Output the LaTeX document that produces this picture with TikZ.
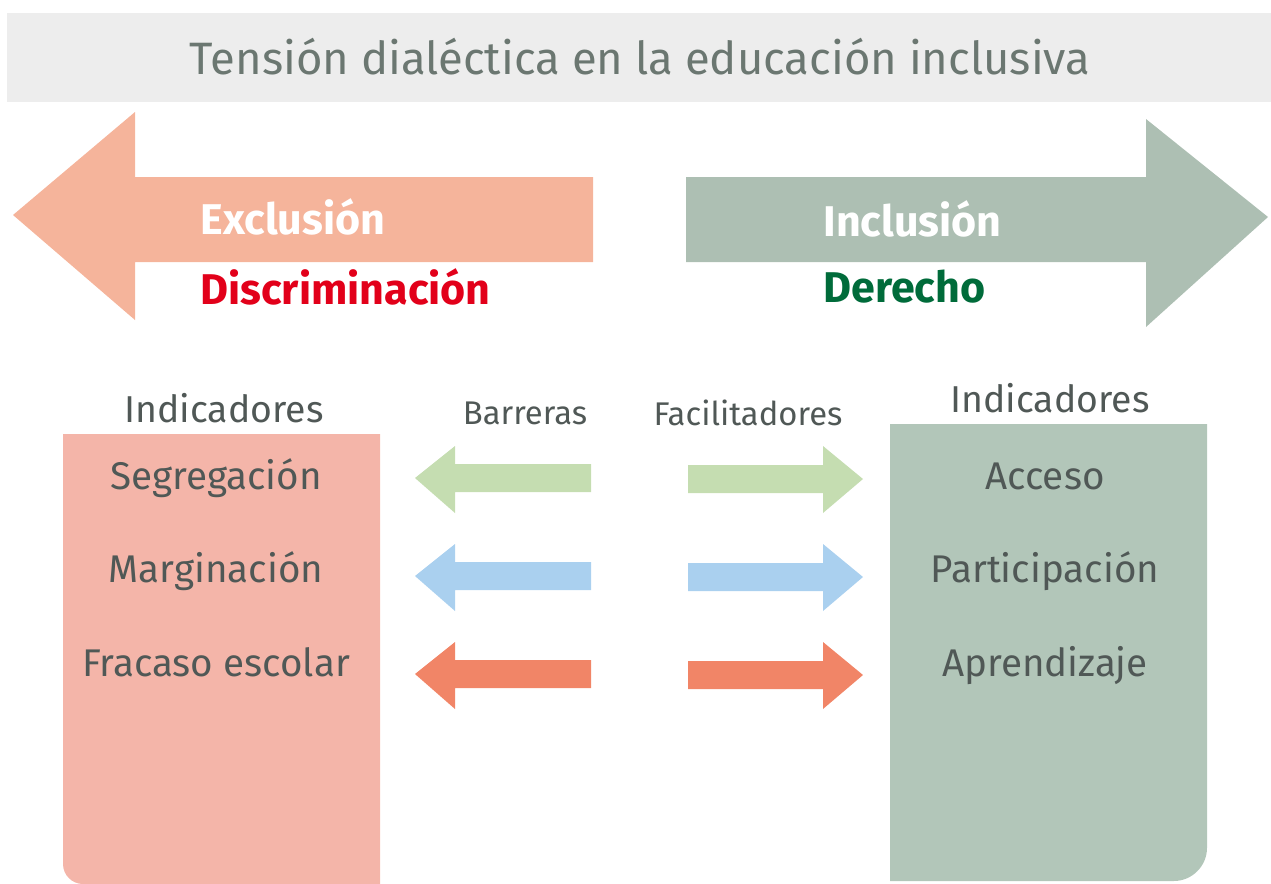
\documentclass[tikz,border=0pt]{standalone}
\usepackage{fontspec}
\setmainfont{Fira Sans}
\usepackage{xcolor}
\usetikzlibrary{shapes,arrows,positioning}

\definecolor{titlebg}{HTML}{EDEDED}
\definecolor{titlegray}{HTML}{6B7771}
\definecolor{textgray}{HTML}{505856}
\definecolor{exclfill}{HTML}{F5B49B}
\definecolor{inclfill}{HTML}{ADBFB3}
\definecolor{leftfill}{HTML}{F4B5A9}
\definecolor{rightfill}{HTML}{B2C6B9}
\definecolor{discred}{HTML}{E2001A}
\definecolor{rightgreen}{HTML}{006B3A}
\definecolor{arrgreen}{HTML}{C5DDB1}
\definecolor{arrblue}{HTML}{AAD0EF}
\definecolor{arrorange}{HTML}{F18567}

\begin{document}
\begin{tikzpicture}[x=0.5pt, y=-0.5pt, node distance=46.75pt]
    % Define styles
    \tikzstyle{title} = [text=titlegray, font=\fontsize{22.7}{27}\selectfont, inner sep=0pt]
    \tikzstyle{bigword} = [anchor=west, font=\bfseries\fontsize{21.5}{25}\selectfont, inner sep=0pt]
    \tikzstyle{item} = [text=textgray, font=\fontsize{19.3}{23}\selectfont, inner sep=0pt, text height=0.75em, text depth=0.25em]
    \tikzstyle{head} = [text=textgray, font=\fontsize{18.7}{22}\selectfont, inner sep=0pt]
    \tikzstyle{small} = [text=textgray, font=\fontsize{16.4}{19}\selectfont, inner sep=0pt]

    \useasboundingbox (0,0) rectangle (1271,884);

    % Title band
    \fill[titlebg] (7,13) rectangle (1271,102);
    \node [title] (title) at (640,57) {Tensión dialéctica en la educación inclusiva};

    % Big arrows
    \fill[exclfill] (13,215) -- (135,112) -- (135,177) -- (593,177) -- (593,262) -- (135,262) -- (135,320) -- cycle;
    \fill[inclfill] (1268,217) -- (1146,119) -- (1146,177) -- (686,177) -- (686,262) -- (1146,262) -- (1146,327) -- cycle;
    \node [bigword, text=white] (excl) at (200,217) {Exclusión};
    \node [bigword, text=discred] (disc) at (200,287) {Discriminación};
    \node [bigword, text=white] (incl) at (823,219) {Inclusión};
    \node [bigword, text=rightgreen] (dere) at (823,287) {Derecho};

    % Indicator boxes
    \fill[leftfill] (63,434) -- (380,434) -- (380,884) -- (83,884) .. controls (72,884) and (63,875) .. (63,864) -- cycle;
    \fill[rightfill] (890,424) -- (1207,424) -- (1207,848) .. controls (1207,866) and (1192,881) .. (1174,881) -- (890,881) -- cycle;

    % Place nodes
    \node [head] (indl) at (224,408) {Indicadores};
    \node [item] (seg) at (216,484) {Segregación};
    \node [item, below of=seg] (marg) {Marginación};
    \node [item, below of=marg] (frac) {Fracaso escolar};

    \node [head] (indr) at (1050,398) {Indicadores};
    \node [item] (acc) at (1045,484) {Acceso};
    \node [item, below of=acc] (part) {Participación};
    \node [item, below of=part] (apre) {Aprendizaje};

    \node [small] (barr) at (525,413) {Barreras};
    \node [small] (faci) at (748,413) {Facilitadores};

    % Small arrows
    \foreach \y/\col in {478/arrgreen, 576/arrblue, 674/arrorange} {
        \fill[\col] (415,\y) -- (455,\y-32) -- (455,\y-14) -- (591,\y-14) -- (591,\y+14) -- (455,\y+14) -- (455,\y+35) -- cycle;
        \fill[\col] (863,\y+1) -- (823,\y-32) -- (823,\y-13) -- (688,\y-13) -- (688,\y+15) -- (823,\y+15) -- (823,\y+35) -- cycle;
    }
\end{tikzpicture}
\end{document}
